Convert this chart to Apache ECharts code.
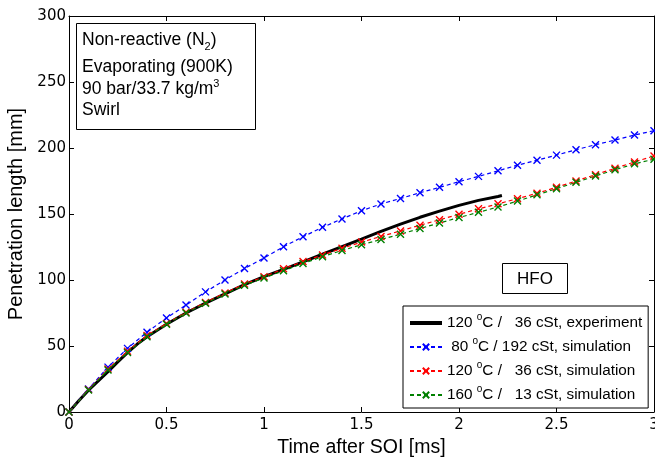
<!DOCTYPE html>
<html><head><meta charset="utf-8">
<script src="https://cdn.jsdelivr.net/npm/echarts/dist/echarts.min.js"></script>
<style>html,body{margin:0;padding:0;background:#fff}#c{width:655px;height:459px}</style>
</head><body><div id="c"></div><script>
// ---- data ----
const simTime = [0,0.1,0.2,0.3,0.4,0.5,0.6,0.7,0.8,0.9,1.0,1.1,1.2,1.3,1.4,1.5,1.6,1.7,1.8,1.9,2.0,2.1,2.2,2.3,2.4,2.5,2.6,2.7,2.8,2.9,3.0];
const sim80  = [0,17.5,34,48.2,60.5,71.2,81,91,100,108.7,116.7,125.2,132.8,139.9,146.3,152.5,157.6,161.8,166.1,170.2,174.5,178.5,182.7,187,190.8,194.6,198.7,202.5,206,209.8,213.1];
const sim120 = [0,17,32.5,46,58,67,75.5,83,90.2,97,102.5,108.5,114,119,124,128.7,133,137.2,141.5,145.6,149.8,153.9,157.7,161.6,165.7,170.2,175,179.8,184.6,189.4,194];
const sim160 = [0,16.7,31.8,45,57,66.4,75,82.3,89.4,96,101.5,107,112.5,117.7,122.4,126.7,130.7,134.7,139,143.2,147.3,151.3,155.3,159.8,164.5,169.2,174,178.8,183.5,188,191.5];
const expTime = [0,0.05,0.1,0.15,0.2,0.25,0.3,0.35,0.4,0.5,0.6,0.7,0.8,0.9,1.0,1.1,1.2,1.3,1.4,1.5,1.6,1.7,1.8,1.9,2.0,2.1,2.2,2.22];
const exp120  = [0,8.5,16.5,23.5,30.5,38,45,51.5,57,66.5,75,82.5,89.5,96.5,102.5,108,113.8,119.5,125.3,131,136.8,142.3,147.5,152.2,156.5,160.3,163.3,164];
const seriesNames = ['exp120','sim80','sim120','sim160'];
const legendTemp = ['120',' 80','120','160'];
const legendVisc = ['  36','192','  36','  13'];
const legendKind = ['experiment','simulation','simulation','simulation'];
const xTicks = {min:0, max:3, interval:0.5};
const yTicks = {min:0, max:300, interval:50};

const pair = (xs, ys) => xs.map((x,i)=>[x, ys[i]]);
const X = 'path://M0,0L10,10M10,0L0,10';
const chart = echarts.init(document.getElementById('c'), null, {renderer:'canvas'});
const FONT = 'Liberation Sans, Arial, sans-serif';
const TICKFONT = 'DejaVu Sans, sans-serif';
const LFS = 15.3; // legend font size
const axisCommon = {
  type:'value', splitLine:{show:false},
  axisLine:{show:true, onZero:false, lineStyle:{color:'#000', width:1}},
  axisTick:{show:true, inside:true, length:5, lineStyle:{color:'#000', width:1}},
};
function simSeries(name, ys, color){
  return {name, type:'line', data: pair(simTime, ys), symbol: X, symbolSize: 7, showAllSymbol:true,
    symbolKeepAspect:true, smooth:false,
    lineStyle:{color, width:1.2, type:[4,3]},
    itemStyle:{color, borderColor: color, borderWidth:1.4},
    emphasis:{disabled:true}};
}
const legendFmt = name => {
  const i = seriesNames.indexOf(name);
  return '{b|' + legendTemp[i] + ' }{sup|o}{b|C / ' + legendVisc[i] + ' cSt, ' + legendKind[i] + '}';
};
chart.setOption({
  animation:false,
  grid:{left:69, top:16, right:1, bottom:47, outerBoundsMode:'none', containLabel:false},
  xAxis:[
    Object.assign({}, axisCommon, {position:'bottom', min:xTicks.min, max:xTicks.max, interval:xTicks.interval,
      axisLabel:{color:'#000', fontSize:15, fontFamily:TICKFONT, margin:6},
      name:'Time after SOI [ms]', nameLocation:'middle', nameGap:23,
      nameTextStyle:{color:'#000', fontSize:19.5, fontFamily:FONT}}),
    Object.assign({}, axisCommon, {position:'top', min:xTicks.min, max:xTicks.max, interval:xTicks.interval,
      axisLabel:{show:false}})
  ],
  yAxis:[
    Object.assign({}, axisCommon, {position:'left', min:yTicks.min, max:yTicks.max, interval:yTicks.interval,
      axisLabel:{color:'#000', fontSize:15, fontFamily:TICKFONT, margin:3},
      name:'Penetration length [mm]', nameLocation:'middle', nameGap:32,
      nameTextStyle:{color:'#000', fontSize:20, fontFamily:FONT}}),
    Object.assign({}, axisCommon, {position:'right', min:yTicks.min, max:yTicks.max, interval:yTicks.interval,
      axisLabel:{show:false}})
  ],
  legend:{
    orient:'vertical', left:403, top:306, itemWidth:32, itemHeight:8, itemGap:0,
    padding:[5,6,1,5], backgroundColor:'#fff', borderColor:'#000', borderWidth:1,
    data: [{name:'exp120', lineStyle:{width:4}}, 'sim80', 'sim120', 'sim160'],
    formatter: legendFmt, selectedMode:false,
    textStyle:{color:'#000', fontSize:LFS, fontFamily:FONT, lineHeight:24,
      rich:{
        sup:{fontSize:10, fontFamily:FONT, lineHeight:10, padding:[0,0,11,0]},
        b:{fontSize:LFS, fontFamily:FONT, lineHeight:24}
      }}
  },
  series:[
    {name:'exp120', type:'line', data: pair(expTime, exp120), symbol:'path://M0,0L1,1', showSymbol:false, smooth:false,
      lineStyle:{color:'#000', width:3}, itemStyle:{color:'#000', borderWidth:0, opacity:0}, emphasis:{disabled:true}},
    simSeries('sim80', sim80, '#0000ff'),
    simSeries('sim120', sim120, '#ff0000'),
    simSeries('sim160', sim160, '#008000')
  ],
  graphic:[
    {type:'rect', shape:{x:76.5, y:23.5, width:179, height:106}, style:{fill:'#fff', stroke:'#000', lineWidth:1}, z:100},
    {type:'text', left:82, top:29, z:101, style:{text:'Non-reactive (N{sub|2})', fill:'#000', fontSize:17.5, fontFamily:FONT,
      rich:{sub:{fontSize:11, fontFamily:FONT, lineHeight:10, padding:[12,0,0,0]}}}},
    {type:'text', left:82, top:58, z:101, style:{text:'Evaporating (900K)', fill:'#000', fontSize:17.5, fontFamily:FONT}},
    {type:'text', left:82, top:78, z:101, style:{text:'90 bar/33.7 kg/m{sup|3}', fill:'#000', fontSize:17.5, fontFamily:FONT,
      rich:{sup:{fontSize:11, fontFamily:FONT, lineHeight:10, padding:[0,0,12,0]}}}},
    {type:'text', left:82, top:101, z:101, style:{text:'Swirl', fill:'#000', fontSize:17.5, fontFamily:FONT}},
    {type:'rect', shape:{x:502.5, y:263.5, width:65, height:30}, style:{fill:'#fff', stroke:'#000', lineWidth:1}, z:100},
    {type:'text', x:535, y:279, z:101, style:{text:'HFO', fill:'#000', fontSize:17, fontFamily:FONT, align:'center', verticalAlign:'middle'}}
  ]
});
</script></body></html>
